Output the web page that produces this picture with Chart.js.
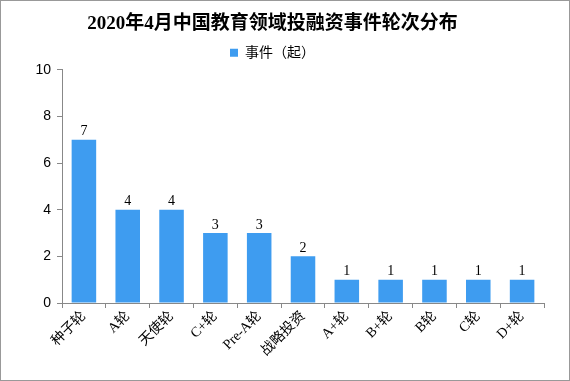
<!DOCTYPE html>
<html>
<head>
<meta charset="utf-8">
<script src="https://cdn.jsdelivr.net/npm/chart.js@4"></script>
<style>
html,body{margin:0;padding:0;background:#fff;}
#wrap{width:568px;height:379px;border:1px solid #999;position:relative;}
</style>
</head>
<body>
<div id="wrap"><canvas id="courbe" width="568" height="379"></canvas></div>
<script>
// donnees
const lunzi=['种子轮','A轮','天使轮','C+轮','Pre-A轮','战略投资','A+轮','B+轮','B轮','C轮','D+轮'];
const shijian=[7,4,4,3,3,2,1,1,1,1,1];
const yTicks=[0,2,4,6,8,10];

const serif='"Liberation Serif","Noto Sans CJK SC",serif';
const sans='"Liberation Sans","Noto Sans CJK SC",sans-serif';

// valeurs au-dessus des barres
const valeurs={
    id:'valeurs',
    afterDatasetsDraw(chart){
        const ctx=chart.ctx;
        ctx.save();
        ctx.font='14px '+serif;
        ctx.fillStyle='#000';
        ctx.textAlign='center';
        ctx.textBaseline='bottom';
        chart.getDatasetMeta(0).data.forEach((bar,i)=>{
            ctx.fillText(shijian[i],bar.x,bar.y-1);
        });
        ctx.restore();
    }
};

const ctx=document.getElementById('courbe');
const myChart=new Chart(ctx,{
    type:'bar',
    data:{
        labels:lunzi,
        datasets:[{
            label:'事件（起）',
            data:shijian,
            backgroundColor:'#3e9cf0',
            borderWidth:0,
            barPercentage:0.56,
            categoryPercentage:1
        }]
    },
    options:{
        responsive:false,
        animation:false,
        layout:{padding:{left:0,right:25,top:10,bottom:0}},
        plugins:{
            title:{
                display:true,
                text:'2020年4月中国教育领域投融资事件轮次分布',
                color:'#000',
                font:{family:serif,size:19,weight:'bold'},
                padding:{top:2,bottom:4}
            },
            legend:{
                display:true,
                labels:{
                    color:'#000',
                    font:{family:sans,size:14},
                    boxWidth:8,
                    boxHeight:8,
                    padding:6
                }
            },
            tooltip:{enabled:false}
        },
        scales:{
            x:{
                grid:{display:true,drawOnChartArea:false,drawTicks:true,tickLength:5,color:'#888',offset:true},
                border:{color:'#888'},
                ticks:{
                    color:'#000',
                    font:{family:serif,size:14},
                    minRotation:45,
                    maxRotation:45,
                    autoSkip:false,
                    padding:0
                },
                afterFit(scale){scale.height=77;}
            },
            y:{
                min:0,
                max:10,
                afterBuildTicks(scale){scale.ticks=yTicks.map(v=>({value:v}));},
                grid:{display:true,drawOnChartArea:false,drawTicks:true,tickLength:5,color:'#888'},
                border:{color:'#888'},
                ticks:{
                    color:'#000',
                    font:{family:sans,size:14},
                    padding:6
                },
                afterFit(scale){scale.width=61;}
            }
        }
    },
    plugins:[valeurs]
});
</script>
</body>
</html>
